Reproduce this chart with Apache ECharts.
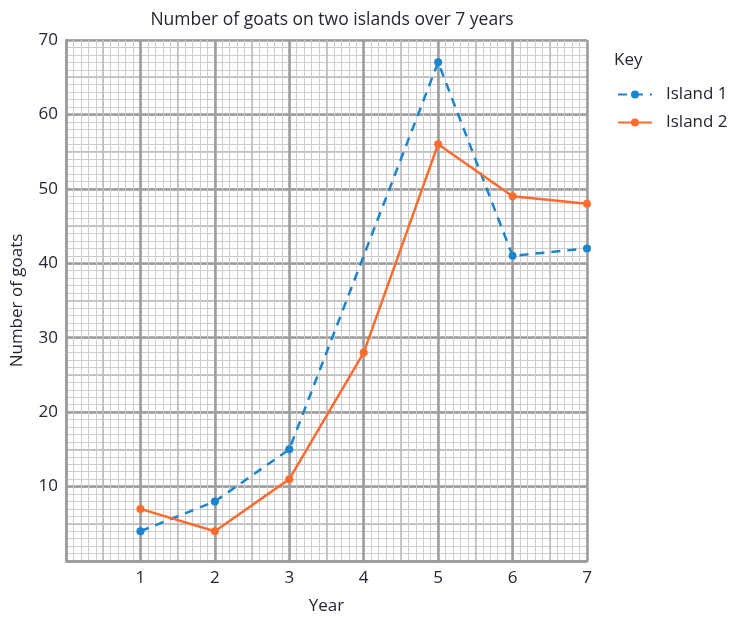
<!DOCTYPE html>
<html><head><meta charset="utf-8">
<script src="https://cdn.jsdelivr.net/npm/echarts@6/dist/echarts.min.js"></script>
<style>html,body{margin:0;padding:0;background:#fff}#c{width:733px;height:617px}</style>
</head><body><div id="c"></div>
<script>
const years = [1, 2, 3, 4, 5, 6, 7];
const island1 = [4, 8, 15, null, 67, 41, 42];
const island2 = [7, 4, 11, 28, 56, 49, 48];
const xTickLabels = ['1','2','3','4','5','6','7'];
const yTickLabels = ['10','20','30','40','50','60','70'];
const seriesNames = ['Island 1', 'Island 2'];

const FONT = '"Open Sans", Lato, sans-serif';
const TXT = '#262633';
const FS = 17;
const FW = 500;
const grid = {left: 66, right: 146, top: 40, bottom: 56, outerBoundsMode:'none'};

function helperX(interval, color, width){
  return {type:'value', min:0, max:7, interval:interval, gridIndex:0, position:'bottom',
    axisLine:{show:false}, axisTick:{show:false}, axisLabel:{show:false},
    splitLine:{show:true, lineStyle:{color:color, width:width}}};
}
function helperY(interval, color, width){
  return {type:'value', min:0, max:70, interval:interval, gridIndex:0, position:'left',
    axisLine:{show:false}, axisTick:{show:false}, axisLabel:{show:false},
    splitLine:{show:true, lineStyle:{color:color, width:width}}};
}

const option = {
  animation:false,
  backgroundColor:'#fff',
  title:{text:'Number of goats on two islands over 7 years', left:327, textAlign:'center', top:6,
    textStyle:{fontFamily:FONT, fontSize:17.5, fontWeight:FW, color:TXT}},
  legend:{orient:'vertical', left:612, top:81, itemWidth:34, itemHeight:10, itemGap:11,
    data:seriesNames,
    textStyle:{fontFamily:FONT, fontSize:FS, fontWeight:FW, color:TXT, padding:[0,0,0,9]}},
  graphic:[{type:'text', left:614, top:52, style:{text:'Key', font:FW+' '+FS+'px '+FONT, fill:TXT}}],
  grid:grid,
  xAxis:[
    helperX(0.1, '#cdcdcd', 1),
    helperX(0.5, '#b8b8b8', 1.5),
    {type:'value', min:0, max:7, interval:1, gridIndex:0, position:'bottom',
      name:'Year', nameLocation:'middle', nameGap:37,
      nameTextStyle:{fontFamily:FONT, fontSize:FS, fontWeight:FW, color:TXT},
      axisLine:{show:true, onZero:false, lineStyle:{color:'#9c9c9c', width:2.5}},
      axisTick:{show:false},
      axisLabel:{fontFamily:FONT, fontSize:FS, fontWeight:FW, color:TXT, margin:9,
        formatter:function(v){ const i = years.indexOf(v); return i>=0 ? xTickLabels[i] : ''; }},
      splitLine:{show:true, lineStyle:{color:'#9c9c9c', width:2.5}}}
  ],
  yAxis:[
    helperY(1, '#cdcdcd', 1),
    helperY(5, '#b8b8b8', 1.5),
    {type:'value', min:0, max:70, interval:10, gridIndex:0, position:'left',
      name:'Number of goats', nameLocation:'middle', nameGap:40,
      nameTextStyle:{fontFamily:FONT, fontSize:FS, fontWeight:FW, color:TXT},
      axisLine:{show:true, onZero:false, lineStyle:{color:'#9c9c9c', width:2.5}},
      axisTick:{show:false},
      axisLabel:{fontFamily:FONT, fontSize:FS, fontWeight:FW, color:TXT, margin:8,
        formatter:function(v){ const i = yTickLabels.indexOf(String(v)); return i>=0 ? yTickLabels[i] : ''; }},
      splitLine:{show:true, lineStyle:{color:'#9c9c9c', width:2.5}}}
  ],
  series:[
    {name:seriesNames[0], type:'line', xAxisIndex:2, yAxisIndex:2, connectNulls:true,
      data: years.map((y,i)=>[y, island1[i]]).filter(p=>p[1]!==null),
      symbol:'circle', symbolSize:8, color:'#1b84cf',
      lineStyle:{color:'#1b84cf', width:2.5, type:[9,7]},
      itemStyle:{color:'#1b84cf'}},
    {name:seriesNames[1], type:'line', xAxisIndex:2, yAxisIndex:2,
      data: years.map((y,i)=>[y, island2[i]]),
      symbol:'circle', symbolSize:8, color:'#ff6b2d',
      lineStyle:{color:'#ff6b2d', width:2.5},
      itemStyle:{color:'#ff6b2d'}}
  ]
};
const chart = echarts.init(document.getElementById('c'), null, {renderer:'canvas'});
chart.setOption(option);
</script>
</body></html>
